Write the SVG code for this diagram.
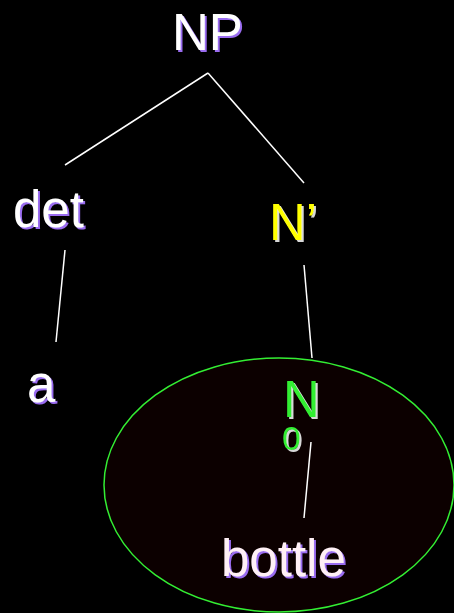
<svg xmlns="http://www.w3.org/2000/svg" width="454" height="613" viewBox="0 0 454 613">
<defs>
<filter id="ps" x="-10%" y="-10%" width="130%" height="130%">
<feFlood flood-color="#9a6cf0"/>
<feComposite in2="SourceAlpha" operator="in"/>
<feOffset dx="2" dy="2" result="s"/>
<feMerge><feMergeNode in="s"/><feMergeNode in="SourceGraphic"/></feMerge>
</filter>
<filter id="ls" x="-10%" y="-10%" width="130%" height="130%">
<feFlood flood-color="#d8d8d8"/>
<feComposite in2="SourceAlpha" operator="in"/>
<feOffset dx="2" dy="2" result="s"/>
<feMerge><feMergeNode in="s"/><feMergeNode in="SourceGraphic"/></feMerge>
</filter>
</defs>
<style>
text{font-family:"Liberation Sans",Arial,sans-serif;font-size:51px}
.w{fill:#ffffff;filter:url(#ps)}
.y{fill:#ffff00;filter:url(#ls)}
.g{fill:#33ee33;filter:url(#ls)}
.line{stroke:#ffffff;stroke-width:1.5;fill:none}
</style>
<rect width="454" height="613" fill="#000000"/>
<g id="connectors">
<line class="line" x1="208" y1="73" x2="65" y2="165"/>
<line class="line" x1="208" y1="73" x2="304" y2="183"/>
<line class="line" x1="65" y1="250" x2="56" y2="342"/>
<line class="line" x1="304" y1="265" x2="312" y2="358"/>
</g>
<g id="ellipse">
<ellipse cx="279" cy="485" rx="175" ry="127" fill="#0c0000" stroke="#33ee33" stroke-width="1.5"/>
</g>
<g id="connectors2">
<line class="line" x1="311" y1="442" x2="304" y2="518"/>
</g>
<g id="NP"><text class="w" x="172" y="50">NP</text></g>
<g id="det"><text class="w" x="13" y="227">det</text></g>
<g id="Nbar"><text class="y" x="269" y="240">N’</text></g>
<g id="a"><text class="w" x="27" y="402">a</text></g>
<g id="N0">
<text class="g" x="283" y="417">N</text>
<text class="g" x="282" y="450" style="font-size:34px">0</text>
</g>
<g id="bottle"><text class="w" x="221" y="576" style="fill:#fff0f6">bottle</text></g>
</svg>
